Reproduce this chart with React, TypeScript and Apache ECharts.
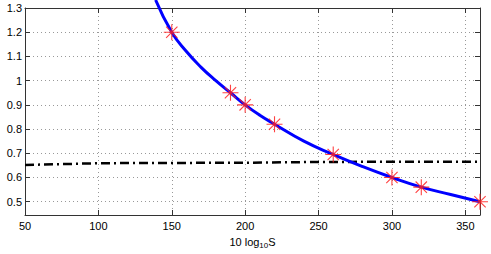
import React, { useEffect, useRef } from "react";
import * as echarts from "echarts";

const xTicks = [50, 100, 150, 200, 250, 300, 350];
const yTicks = [0.5, 0.6, 0.7, 0.8, 0.9, 1, 1.1, 1.2, 1.3];

// blue curve points
const curveX = [139, 150, 160, 170, 180, 190, 200, 210, 220, 240, 260, 280, 300, 320, 340, 360];
const curveY = [1.333, 1.2, 1.12, 1.055, 1.0, 0.95, 0.9, 0.857, 0.82, 0.75, 0.695, 0.645, 0.6, 0.56, 0.53, 0.5];

// red star markers
const markX = [150, 190, 200, 220, 260, 300, 320, 360];
const markY = [1.2, 0.95, 0.9, 0.82, 0.695, 0.6, 0.56, 0.5];

// black dash-dot line
const flatX = [50, 75, 100, 150, 200, 250, 300, 360];
const flatY = [0.652, 0.655, 0.659, 0.66, 0.661, 0.664, 0.665, 0.665];

const zip = (a: number[], b: number[]) => a.map((v, i) => [v, b[i]]);

const FONT = "Liberation Sans, Arial, Helvetica, sans-serif";
const XMIN = 50, XMAX = 360, YMIN = 0.445, YMAX = 1.3;

export default function App() {
  const ref = useRef<HTMLDivElement>(null);
  useEffect(() => {
    if (!ref.current) return;
    const chart = echarts.init(ref.current, null, { renderer: "svg" });
    const axisLine = { show: true, lineStyle: { color: "#333", width: 1 } };
    const tickStyle = { show: true, inside: true, length: 5, lineStyle: { color: "#333" } };
    const grid = { show: true, lineStyle: { color: "#999", type: [1, 3], width: 1 } };
    const star = "path://M0,-8L0,8M-8,0L8,0M-5.66,-5.66L5.66,5.66M-5.66,5.66L5.66,-5.66";
    const xAx = (pos: string, labels: boolean) => ({
      type: "value", min: XMIN, max: XMAX, position: pos,
      axisLine,
      axisTick: { ...tickStyle, customValues: xTicks },
      axisLabel: labels
        ? { show: true, customValues: xTicks, color: "#000", fontFamily: FONT, fontSize: 11, margin: 5 }
        : { show: false },
      splitLine: labels ? grid : { show: false },
    });
    const yAx = (pos: string, labels: boolean) => ({
      type: "value", min: YMIN, max: YMAX, position: pos,
      axisLine,
      axisTick: { ...tickStyle, customValues: yTicks },
      axisLabel: labels
        ? {
            show: true, customValues: yTicks, color: "#000", fontFamily: FONT, fontSize: 11, margin: 3,
            formatter: (v: number) => String(Math.round(v * 10) / 10),
          }
        : { show: false },
      splitLine: labels ? grid : { show: false },
    });
    chart.setOption({
      animation: false,
      backgroundColor: "#fff",
      grid: { left: 25, right: 11, top: 8, bottom: 36, containLabel: false },
      xAxis: [
        {
          ...xAx("bottom", true),
          name: "{a|10 log}{b|10}{a|S}",
          nameLocation: "middle", nameGap: 20,
          nameTextStyle: {
            rich: {
              a: { fontFamily: FONT, fontSize: 11, color: "#000" },
              b: { fontFamily: FONT, fontSize: 8, color: "#000", verticalAlign: "bottom", padding: [6, 0, 0, 0] },
            },
          },
        },
        xAx("top", false),
      ],
      yAxis: [yAx("left", true), yAx("right", false)],
      series: [
        {
          type: "line", data: zip(flatX, flatY), showSymbol: false, symbol: "none",
          lineStyle: { color: "#000", width: 2.5, type: [9, 4, 2, 4] },
          z: 2,
        },
        {
          type: "line", data: zip(curveX, curveY), smooth: true, showSymbol: false, symbol: "none",
          clip: false,
          lineStyle: { color: "#0000ff", width: 3 },
          z: 3,
        },
        {
          type: "scatter", data: zip(markX, markY), symbol: star, symbolSize: 16, clip: false,
          itemStyle: { color: "transparent", borderColor: "#ff2020", borderWidth: 1.1, opacity: 0.85 },
          z: 4,
        },
      ],
    });
    return () => chart.dispose();
  }, []);
  return <div ref={ref} style={{ width: 491, height: 254, position: "absolute", left: 0, top: 0 }} />;
}
